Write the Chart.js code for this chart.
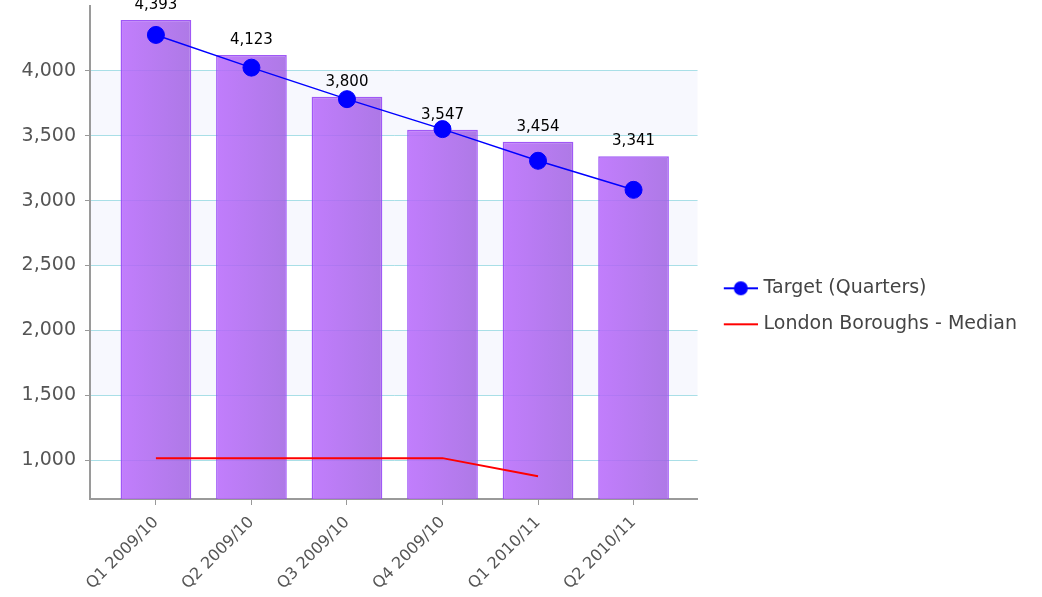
<!DOCTYPE html>
<html>
<head>
<meta charset="utf-8">
<script src="https://cdn.jsdelivr.net/npm/chart.js@4/dist/chart.umd.min.js"></script>
<style>
html,body{margin:0;padding:0;background:#fff;overflow:hidden}
#wrap{width:1042px;height:597px;position:relative}
</style>
</head>
<body>
<div id="wrap"><canvas id="c" width="1042" height="597"></canvas></div>
<script>
// ---- data ----
const categories = ['Q1 2009/10', 'Q2 2009/10', 'Q3 2009/10', 'Q4 2009/10', 'Q1 2010/11', 'Q2 2010/11'];
const actualValues = [4393, 4123, 3800, 3547, 3454, 3341];
const targetValues = [4277, 4025, 3782, 3551, 3307, 3083];
const medianValues = [1015, 1015, 1015, 1015, 875, null];
const yTickValues = [1000, 1500, 2000, 2500, 3000, 3500, 4000];
const seriesNames = ['Actual', 'Target (Quarters)', 'London Boroughs - Median'];

Chart.defaults.font.family = '"DejaVu Sans", Verdana, sans-serif';

function toPoints(vals) { return vals.map((v, i) => ({ x: i, y: v })); }

function barFill(c) {
  const chart = c.chart;
  const xs = chart.scales && chart.scales.x;
  if (!xs || c.dataIndex === undefined || !chart.chartArea) return 'rgba(175,100,240,0.85)';
  const cx = xs.getPixelForValue(c.dataIndex);
  const half = (xs.getPixelForValue(1) - xs.getPixelForValue(0)) * 0.74 / 2;
  const g = chart.ctx.createLinearGradient(cx - half, 0, cx + half, 0);
  g.addColorStop(0, 'rgba(183,103,252,0.85)');
  g.addColorStop(1, 'rgba(160,98,226,0.85)');
  return g;
}

function legendIcon(drawFn) {
  const cv = document.createElement('canvas');
  cv.width = 47; cv.height = 20;
  drawFn(cv.getContext('2d'));
  return cv;
}
const targetIcon = legendIcon(g => {
  g.strokeStyle = '#0000ff'; g.lineWidth = 2;
  g.beginPath(); g.moveTo(13, 10); g.lineTo(47, 10); g.stroke();
  g.fillStyle = '#0000ff';
  g.beginPath(); g.arc(30, 10, 7, 0, Math.PI * 2); g.fill();
});
const medianIcon = legendIcon(g => {
  g.strokeStyle = '#ff0000'; g.lineWidth = 2;
  g.beginPath(); g.moveTo(13, 10); g.lineTo(47, 10); g.stroke();
});

const bandsPlugin = {
  id: 'bands',
  beforeDraw(chart) {
    const { ctx, chartArea: a, scales: { y } } = chart;
    const bands = [[1500, 2000], [2500, 3000], [3500, 4000]];
    ctx.save();
    ctx.fillStyle = '#f7f8fe';
    bands.forEach(([lo, hi]) => {
      const yt = y.getPixelForValue(hi), yb = y.getPixelForValue(lo);
      ctx.fillRect(a.left, yt, a.right - a.left, yb - yt);
    });
    ctx.restore();
  }
};

const valueLabels = {
  id: 'valueLabels',
  afterDatasetDraw(chart, args) {
    if (args.index !== 0) return;
    const { ctx } = chart;
    ctx.save();
    ctx.font = '15px "DejaVu Sans"';
    ctx.fillStyle = '#000';
    ctx.textAlign = 'center';
    ctx.textBaseline = 'alphabetic';
    args.meta.data.forEach((el, i) => {
      ctx.fillText(actualValues[i].toLocaleString('en-US'), el.x, el.y - 11);
    });
    ctx.restore();
  }
};

const chart = new Chart(document.getElementById('c'), {
  type: 'bar',
  data: {
    datasets: [
      {
        label: seriesNames[0],
        data: toPoints(actualValues),
        backgroundColor: barFill,
        borderColor: 'rgba(150,70,245,0.9)',
        borderWidth: 1.5,
        barPercentage: 0.925,
        categoryPercentage: 0.8,
        order: 3
      },
      {
        type: 'line',
        label: seriesNames[1],
        data: toPoints(targetValues),
        borderColor: '#0000ff',
        backgroundColor: '#0000ff',
        borderWidth: 1.5,
        pointRadius: 8.5,
        pointBorderWidth: 1,
        pointBackgroundColor: '#0000ff',
        pointBorderColor: '#0000ff',
        tension: 0,
        order: 1
      },
      {
        type: 'line',
        label: seriesNames[2],
        data: toPoints(medianValues),
        borderColor: '#ff0000',
        backgroundColor: '#ff0000',
        borderWidth: 2,
        pointRadius: 0,
        spanGaps: false,
        tension: 0,
        order: 2
      }
    ]
  },
  options: {
    responsive: false,
    animation: false,
    layout: { autoPadding: false, padding: { top: 6, left: 0, bottom: 0, right: 15 } },
    plugins: {
      tooltip: { enabled: false },
      legend: {
        position: 'right',
        align: 'center',
        maxWidth: 400,
        title: { display: true, text: '', font: { size: 8 }, padding: 0 },
        labels: {
          usePointStyle: true,
          pointStyleWidth: 39.5,
          padding: 17,
          color: '#444',
          font: { size: 19 },
          generateLabels(ch) {
            const items = Chart.defaults.plugins.legend.labels.generateLabels(ch);
            return items.filter(it => it.datasetIndex !== 0).map(it => Object.assign({}, it, {
              pointStyle: it.datasetIndex === 1 ? targetIcon : medianIcon
            }));
          }
        }
      }
    },
    scales: {
      x: {
        type: 'linear',
        min: -0.69,
        max: 5.67,
        offset: false,
        afterBuildTicks: s => { s.ticks = categories.map((c, i) => ({ value: i })); },
        afterFit: s => { s.height = 98; },
        grid: { display: true, drawOnChartArea: false, drawTicks: true, tickLength: 6, tickColor: '#999', offset: false },
        border: { display: true, color: '#9a9a9a', width: 2 },
        ticks: {
          autoSkip: false,
          maxRotation: 45,
          minRotation: 45,
          color: '#555',
          padding: 8,
          font: { size: 16 },
          callback: v => (categories[v] !== undefined ? categories[v] : '')
        }
      },
      y: {
        type: 'linear',
        min: 700,
        max: 4500,
        beginAtZero: false,
        afterBuildTicks: s => { s.ticks = yTickValues.map(v => ({ value: v })); },
        afterFit: s => { s.width = 90; s.paddingTop = 0; s.paddingBottom = 0; },
        grid: { color: '#a9dfe7', lineWidth: 1, tickColor: '#999', tickLength: 5, drawTicks: true },
        border: { color: '#9a9a9a', width: 2 },
        ticks: {
          color: '#555',
          padding: 9,
          autoSkip: false,
          font: { size: 19 },
          callback: v => Number(v).toLocaleString('en-US')
        }
      }
    }
  },
  plugins: [bandsPlugin, valueLabels]
});
chart.update('none');
</script>
</body>
</html>
